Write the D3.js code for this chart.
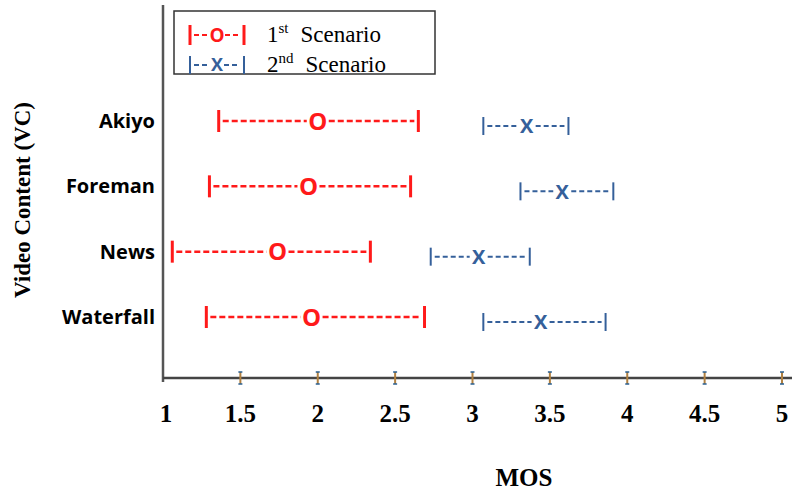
<!DOCTYPE html>
<html lang="en">
  <head>
    <meta charset="UTF-8" />
    <title>MOS intervals</title>
    <script src="https://cdn.jsdelivr.net/npm/d3@7"></script>
    <style>
      body { margin: 0; background: #fff; }
      #svgBox { width: 797px; height: 494px; display: block; }
    </style>
  </head>
  <body>
    <svg id="svgBox"></svg>
  </body>
  <script>
    const categories = ['Akiyo', 'Foreman', 'News', 'Waterfall']
    // 1st scenario: low, mean, high
    const s1Low = [1.36, 1.30, 1.06, 1.28]
    const s1Mean = [2.0, 1.94, 1.74, 1.96]
    const s1High = [2.65, 2.60, 2.34, 2.69]
    // 2nd scenario
    const s2Low = [3.07, 3.31, 2.73, 3.07]
    const s2Mean = [3.35, 3.58, 3.04, 3.44]
    const s2High = [3.62, 3.91, 3.37, 3.86]
    const xTicks = [1, 1.5, 2, 2.5, 3, 3.5, 4, 4.5, 5]

    const RED = '#ff1a1a'
    const BLUE = '#35609a'
    const serif = '"Liberation Serif", "Times New Roman", serif'
    const sans = '"Open Sans", sans-serif'

    const svg = d3.select('#svgBox')
    const x = d3.scaleLinear().domain([1, 5]).range([163, 782])
    const y = d3.scalePoint().domain(categories).range([122, 318])

    // axes
    svg.append('line').attr('x1', 163).attr('x2', 163).attr('y1', 5).attr('y2', 382)
      .attr('stroke', '#555').attr('stroke-width', 2.5)
    svg.append('line').attr('x1', 163).attr('x2', 792).attr('y1', 378).attr('y2', 378)
      .attr('stroke', '#444').attr('stroke-width', 2.5)

    const tk = svg.append('g').selectAll('g').data(xTicks.slice(1)).join('g')
      .attr('transform', d => `translate(${x(d)},378)`)
    tk.append('line').attr('y1', -6).attr('y2', 6).attr('stroke', '#b08040').attr('stroke-width', 2)
    tk.append('line').attr('x1', -2).attr('x2', 2).attr('y1', -6).attr('y2', -6).attr('stroke', '#2a5f90').attr('stroke-width', 1.5)
    tk.append('line').attr('x1', -2).attr('x2', 2).attr('y1', 6).attr('y2', 6).attr('stroke', '#2a5f90').attr('stroke-width', 1.5)

    svg.append('g').selectAll('text').data(xTicks).join('text')
      .attr('x', d => x(d) + (d === 1 ? 3 : 0)).attr('y', 422)
      .attr('text-anchor', 'middle')
      .style('font-family', serif).style('font-weight', 'bold').style('font-size', '25px')
      .text(d => d)

    svg.append('text').attr('x', 524).attr('y', 486).attr('text-anchor', 'middle')
      .style('font-family', serif).style('font-weight', 'bold').style('font-size', '25px')
      .text('MOS')

    svg.append('text').attr('transform', 'translate(30,200) rotate(-90)').attr('text-anchor', 'middle')
      .style('font-family', serif).style('font-weight', 'bold').style('font-size', '23px')
      .text('Video Content (VC)')

    svg.append('g').selectAll('text').data(categories).join('text')
      .attr('x', 155).attr('y', d => y(d) + 6).attr('text-anchor', 'end')
      .style('font-family', sans).style('font-weight', 'bold').style('font-size', '20px')
      .text(d => d)

    // interval drawing
    function interval(g, x0, xm, x1, cy, color, mark, opt) {
      g.append('line').attr('x1', x0).attr('x2', x0).attr('y1', cy - opt.h).attr('y2', cy + opt.h)
        .attr('stroke', color).attr('stroke-width', opt.bw)
      g.append('line').attr('x1', x1).attr('x2', x1).attr('y1', cy - opt.h).attr('y2', cy + opt.h)
        .attr('stroke', color).attr('stroke-width', opt.bw)
      g.append('line').attr('x1', x0 + 4).attr('x2', xm - opt.gap).attr('y1', cy).attr('y2', cy)
        .attr('stroke', color).attr('stroke-width', opt.lw).attr('stroke-dasharray', opt.dash)
      g.append('line').attr('x1', xm + opt.gap).attr('x2', x1 - 4).attr('y1', cy).attr('y2', cy)
        .attr('stroke', color).attr('stroke-width', opt.lw).attr('stroke-dasharray', opt.dash)
      g.append('text').attr('x', xm).attr('y', cy + opt.fs * 0.36).attr('text-anchor', 'middle')
        .attr('fill', color).style('font-family', sans).style('font-weight', 'bold')
        .style('font-size', opt.fs + 'px').text(mark)
    }
    const redOpt = { h: 11, bw: 3, lw: 2.5, dash: '6,3', gap: 11, fs: 24 }
    const blueOpt = { h: 9, bw: 2, lw: 2, dash: '5,3', gap: 9, fs: 20 }
    const marks = svg.append('g')
    categories.forEach((c, i) => {
      interval(marks, x(s1Low[i]), x(s1Mean[i]), x(s1High[i]), y(c) - 1, RED, 'O', redOpt)
      interval(marks, x(s2Low[i]), x(s2Mean[i]), x(s2High[i]), y(c) + 4, BLUE, 'X', blueOpt)
    })

    // legend
    const lg = svg.append('g')
    lg.append('rect').attr('x', 174).attr('y', 11).attr('width', 261).attr('height', 63)
      .attr('fill', '#fff').attr('stroke', '#333').attr('stroke-width', 1.5)
    interval(lg, 190, 217, 244, 35, RED, 'O', { h: 10, bw: 3, lw: 2.2, dash: '5,3', gap: 8, fs: 19 })
    interval(lg, 190, 217, 244, 65, BLUE, 'X', { h: 9, bw: 2, lw: 2, dash: '5,3', gap: 7, fs: 18 })
    const lt = lg.selectAll('text.lab').data(['1|st', '2|nd']).join('text').attr('class', 'lab')
      .attr('x', 267).attr('y', (d, i) => 42 + i * 30)
      .style('font-family', serif).style('font-size', '23px')
    lt.append('tspan').text(d => d.split('|')[0])
    lt.append('tspan').attr('dy', -9).style('font-size', '15px').text(d => d.split('|')[1])
    lt.append('tspan').attr('dy', 9).attr('dx', 12).text('Scenario')
  </script>
</html>
